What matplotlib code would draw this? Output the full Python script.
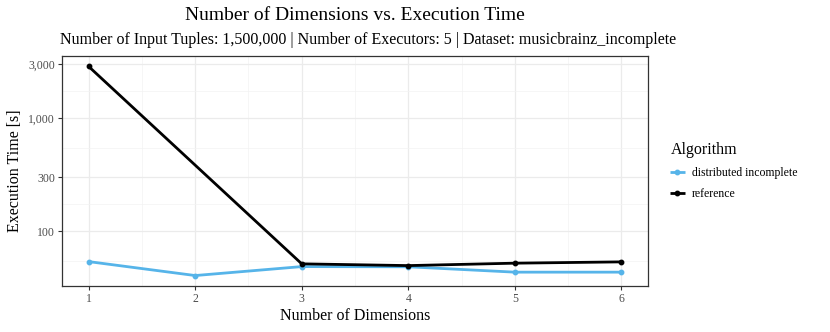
import numpy as np
import matplotlib.pyplot as plt
from matplotlib.ticker import FixedLocator, FuncFormatter, NullFormatter

plt.rcParams['font.family'] = ['Liberation Serif', 'DejaVu Serif']

dims = [1, 2, 3, 4, 5, 6]
distributed_incomplete = [53.8, 40.5, 48.6, 48.4, 43.4, 43.4]
# reference has no run at 2 dimensions
ref_dims = [1, 3, 4, 5, 6]
reference = [2860, 51.4, 49.6, 52.1, 53.5]

series = [
    ('distributed incomplete', dims, distributed_incomplete, '#56B4E9'),
    ('reference', ref_dims, reference, '#000000'),
]

fig = plt.figure(figsize=(8.3, 3.32), dpi=100)
ax = fig.add_axes([62/830, 1-286/332, 586/830, 230/332])

for name, xs, vals, col in series:
    ax.plot(xs, vals, color=col, lw=2.0, marker='o', ms=3.2, label=name,
            solid_capstyle='butt', zorder=3)

ax.set_yscale('log')
ax.margins(x=0.05, y=0.05)

major_y = [100, 300, 1000, 3000]
minor_y = [10**((np.log10(a) + np.log10(b)) / 2) for a, b in
           [(30, 100), (100, 300), (300, 1000), (1000, 3000)]]
ax.yaxis.set_major_locator(FixedLocator(major_y))
ax.yaxis.set_minor_locator(FixedLocator(minor_y))
ax.yaxis.set_major_formatter(FuncFormatter(lambda v, p: f'{int(v):,}'))
ax.yaxis.set_minor_formatter(NullFormatter())
ax.set_xticks(dims)
ax.set_xticks([1.5, 2.5, 3.5, 4.5, 5.5], minor=True)

ax.grid(which='major', color='#EBEBEB', lw=0.9, zorder=0)
ax.grid(which='minor', color='#F3F3F3', lw=0.5, zorder=0)
ax.set_axisbelow(True)
ax.tick_params(which='major', length=3, width=0.8, color='#333333',
               labelsize=8.5, labelcolor='#4D4D4D', pad=2)
ax.tick_params(which='minor', length=0)
for s in ax.spines.values():
    s.set_color('#333333')
    s.set_linewidth(0.9)

ax.set_xlabel('Number of Dimensions', fontsize=11.5, labelpad=2)
ax.set_ylabel('Execution Time [s]', fontsize=11.5, labelpad=4)

fig.text(355/830, 1-16/332, 'Number of Dimensions vs. Execution Time',
         ha='center', va='center', fontsize=14)
fig.text(368/830, 1-40/332,
         'Number of Input Tuples: 1,500,000 | Number of Executors: 5 | Dataset: musicbrainz_incomplete',
         ha='center', va='center', fontsize=11.5)

leg = ax.legend(title='Algorithm', loc='center left', bbox_to_anchor=(1.02, 0.5),
                frameon=False, fontsize=8.5, title_fontsize=11.5,
                handlelength=1.2, handletextpad=0.6, labelspacing=0.8)
leg._legend_box.align = 'left'

fig.savefig('out.png', dpi=100)
